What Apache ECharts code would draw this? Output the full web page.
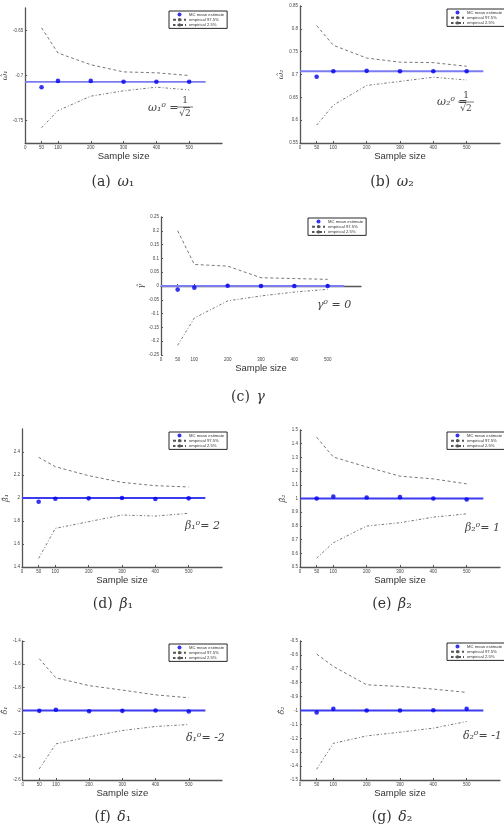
<!DOCTYPE html>
<html>
<head>
<meta charset="utf-8">
<script src="https://cdn.jsdelivr.net/npm/echarts@6/dist/echarts.min.js"></script>
<style>
html,body{margin:0;padding:0;background:#fff}
#main{width:504px;height:833px}
</style>
</head>
<body>
<div id="main"></div>
<script>
// sample sizes and x ticks (shared)
var sampleSizes = [50, 100, 200, 300, 400, 500];
var xTicks = [0, 50, 100, 200, 300, 400, 500];
var trueLineX = [0, 550];

// (a) omega1
var trueW1 = -0.7071;
var meanW1 = [-0.713, -0.706, -0.706, -0.707, -0.707, -0.707];
var hiW1 = [-0.647, -0.675, -0.688, -0.696, -0.697, -0.700];
var loW1 = [-0.758, -0.739, -0.723, -0.717, -0.713, -0.716];
var yTicksW1 = [-0.75, -0.7, -0.65];

// (b) omega2
var trueW2 = 0.7071;
var meanW2 = [0.695, 0.707, 0.708, 0.707, 0.707, 0.707];
var hiW2 = [0.807, 0.764, 0.736, 0.727, 0.726, 0.718];
var loW2 = [0.589, 0.633, 0.676, 0.685, 0.694, 0.688];
var yTicksW2 = [0.55, 0.6, 0.65, 0.7, 0.75, 0.8, 0.85];

// (c) gamma
var trueG = 0;
var meanG = [-0.013, -0.006, 0.001, 0, 0, 0];
var hiG = [0.2, 0.078, 0.072, 0.03, 0.027, 0.024];
var loG = [-0.215, -0.116, -0.054, -0.036, -0.022, -0.012];
var yTicksG = [-0.25, -0.2, -0.15, -0.1, -0.05, 0, 0.05, 0.1, 0.15, 0.2, 0.25];

// (d) beta1
var trueB1 = 2;
var meanB1 = [1.968, 1.994, 1.997, 2.0, 1.991, 1.997];
var hiB1 = [2.354, 2.272, 2.194, 2.136, 2.107, 2.096];
var loB1 = [1.475, 1.736, 1.794, 1.852, 1.843, 1.867];
var yTicksB1 = [1.4, 1.6, 1.8, 2, 2.2, 2.4];

// (e) beta2
var trueB2 = 1;
var meanB2 = [1.0, 1.015, 1.007, 1.01, 1.0, 0.993];
var hiB2 = [1.447, 1.303, 1.23, 1.163, 1.143, 1.107];
var loB2 = [0.565, 0.677, 0.799, 0.823, 0.864, 0.888];
var yTicksB2 = [0.5, 0.6, 0.7, 0.8, 0.9, 1, 1.1, 1.2, 1.3, 1.4, 1.5];

// (f) delta1
var trueD1 = -2;
var meanD1 = [-2.003, -1.994, -2.006, -2.003, -2.0, -2.009];
var hiD1 = [-1.553, -1.718, -1.785, -1.824, -1.865, -1.89];
var loD1 = [-2.504, -2.288, -2.228, -2.173, -2.138, -2.121];
var yTicksD1 = [-2.6, -2.4, -2.2, -2, -1.8, -1.6, -1.4];

// (g) delta2
var trueD2 = -1;
var meanD2 = [-1.014, -0.988, -1.0, -1.0, -0.998, -0.988];
var hiD2 = [-0.594, -0.683, -0.815, -0.827, -0.846, -0.87];
var loD2 = [-1.423, -1.236, -1.183, -1.156, -1.127, -1.079];
var yTicksD2 = [-1.5, -1.4, -1.3, -1.2, -1.1, -1, -0.9, -0.8, -0.7, -0.6, -0.5];

var legendNames = ['MC mean estimate', 'empirical 97.5%', 'empirical 2.5%'];

var panels = [
	{box:[22, 8, 200, 135], min:-0.775, max:-0.625, ticks:yTicksW1, truth:trueW1, mean:meanW1, hi:hiW1, lo:loW1, yname:'ω̂₁', gap:12, lc:'#7b7bf2', leg:[169, 11]},
	{box:[300, 6, 200, 137], min:0.55, max:0.85, ticks:yTicksW2, truth:trueW2, mean:meanW2, hi:hiW2, lo:loW2, yname:'ω̂₂', gap:13, lc:'#7b7bf2', leg:[447, 9]},
	{box:[161, 217, 200, 138], min:-0.25, max:0.25, ticks:yTicksG, truth:trueG, mean:meanG, hi:hiG, lo:loG, yname:'γ̂', gap:16, lc:'#7b7bf2', leg:[308, 218]},
	{box:[22, 429, 200, 138], min:1.4, max:2.6, ticks:yTicksB1, truth:trueB1, mean:meanB1, hi:hiB1, lo:loB1, yname:'β̂₁', gap:12, lc:'#3c3cf0', leg:[169, 432]},
	{box:[300, 430, 200, 137], min:0.5, max:1.5, ticks:yTicksB2, truth:trueB2, mean:meanB2, hi:hiB2, lo:loB2, yname:'β̂₂', gap:13, lc:'#3c3cf0', leg:[447, 432]},
	{box:[22, 641, 200, 139], min:-2.6, max:-1.4, ticks:yTicksD1, truth:trueD1, mean:meanD1, hi:hiD1, lo:loD1, yname:'δ̂₁', gap:10, lc:'#3c3cf0', leg:[169, 644]},
	{box:[300, 641, 200, 139], min:-1.5, max:-0.5, ticks:yTicksD2, truth:trueD2, mean:meanD2, hi:hiD2, lo:loD2, yname:'δ̂₂', gap:12, lc:'#3c3cf0', leg:[447, 643]}
];

function fmt(v) {
	return String(parseFloat(Number(v).toFixed(3)));
}
function pairs(ys) {
	return sampleSizes.map(function(x, i) { return [x, ys[i]]; });
}

var grids = [], xAxes = [], yAxes = [], series = [], legends = [];
var axisLine = {show:true, lineStyle:{color:'#555', width:1.3}};
var tickLab = {fontSize:4.5, color:'#444', fontFamily:'Liberation Sans', margin:2, formatter:fmt};

panels.forEach(function(p, k) {
	grids.push({left:p.box[0], top:p.box[1], width:p.box[2], height:p.box[3], containLabel:false});
	xAxes.push({
		type:'value', gridIndex:k, min:0, max:600,
		name:'Sample size', nameLocation:'middle', nameGap:6,
		nameTextStyle:{fontSize:9.5, color:'#333', fontFamily:'Liberation Sans'},
		axisLine:axisLine,
		axisTick:{show:true, inside:true, length:2, customValues:xTicks, lineStyle:{color:'#555'}},
		axisLabel:Object.assign({}, tickLab, {customValues:xTicks}),
		splitLine:{show:false}
	});
	yAxes.push({
		type:'value', gridIndex:k, min:p.min, max:p.max,
		name:p.yname, nameLocation:'middle', nameGap:p.gap, nameRotate:90,
		nameTextStyle:{fontSize:8, color:'#444', fontFamily:'DejaVu Serif', fontStyle:'italic'},
		axisLine:axisLine,
		axisTick:{show:true, inside:true, length:2, customValues:p.ticks, lineStyle:{color:'#555'}},
		axisLabel:Object.assign({}, tickLab, {customValues:p.ticks}),
		splitLine:{show:false}
	});
	series.push({
		type:'line', xAxisIndex:k, yAxisIndex:k, name:'true', silent:true,
		data:trueLineX.map(function(x) { return [x, p.truth]; }),
		symbol:'none', lineStyle:{color:p.lc, width:1.8}, z:2
	});
	series.push({
		type:'line', xAxisIndex:k, yAxisIndex:k, name:legendNames[1],
		data:pairs(p.hi), symbol:'none', color:'#555',
		lineStyle:{color:'#555', width:0.8, type:[3, 2.5]}, z:3
	});
	series.push({
		type:'line', xAxisIndex:k, yAxisIndex:k, name:legendNames[2],
		data:pairs(p.lo), symbol:'none', color:'#555',
		lineStyle:{color:'#555', width:0.8, type:[2.5, 2, 1, 2]}, z:3
	});
	series.push({
		type:'scatter', xAxisIndex:k, yAxisIndex:k, name:legendNames[0],
		data:pairs(p.mean), symbol:'circle', symbolSize:4.6,
		itemStyle:{color:'#0000ee'}, z:5
	});
	legends.push({
		data:legendNames, orient:'vertical', left:p.leg[0], top:p.leg[1],
		itemWidth:13, itemHeight:4, itemGap:1.2, padding:[1.5, 3, 1.5, 3],
		borderColor:'#111', borderWidth:0.9, backgroundColor:'#fff',
		textStyle:{fontSize:4.2, color:'#333', fontFamily:'Liberation Sans', padding:[0, 0, 0, -2]},
		selectedMode:false
	});
});

function caption(x, y, tag, greek, sub) {
	return {
		type:'text', x:x, y:y,
		style:{
			text:'{n|(' + tag + ')}  {g|' + greek + '}{s|' + sub + '}',
			align:'center', verticalAlign:'middle',
			rich:{
				n:{fontSize:14, fontFamily:'DejaVu Serif', fill:'#333'},
				g:{fontSize:14, fontFamily:'DejaVu Serif', fontStyle:'italic', fill:'#333'},
				s:{fontSize:14, fontFamily:'DejaVu Serif', fill:'#333'}
			}
		}
	};
}
function note(x, y, txt) {
	return {
		type:'text', x:x, y:y,
		style:{text:txt, font:'italic 11px "DejaVu Serif"', fill:'#444', verticalAlign:'middle'}
	};
}
function frac(cx, cy) {
	return [
		{type:'text', x:cx, y:cy - 6, style:{text:'1', font:'9px "DejaVu Serif"', fill:'#444', align:'center', verticalAlign:'middle'}},
		{type:'line', shape:{x1:cx - 8, y1:cy, x2:cx + 8, y2:cy}, style:{stroke:'#444', lineWidth:0.7}},
		{type:'text', x:cx, y:cy + 6.5, style:{text:'√2', font:'9px "DejaVu Serif"', fill:'#444', align:'center', verticalAlign:'middle'}}
	];
}

var graphics = [
	caption(113, 182, 'a', 'ω', '₁'),
	caption(392, 182, 'b', 'ω', '₂'),
	caption(248, 397, 'c', 'γ', ''),
	caption(113, 604, 'd', 'β', '₁'),
	caption(392, 604, 'e', 'β', '₂'),
	caption(113, 817, 'f', 'δ', '₁'),
	caption(392, 817, 'g', 'δ', '₂'),
	note(148, 108, 'ω₁⁰ = −'),
	note(437, 102, 'ω₂⁰ = '),
	note(317, 305, 'γ⁰ = 0'),
	note(185, 526, 'β₁⁰= 2'),
	note(465, 528, 'β₂⁰= 1'),
	note(186, 738, 'δ₁⁰= -2'),
	note(463, 736, 'δ₂⁰= -1')
].concat(frac(185, 107)).concat(frac(466, 102));

var myChart = echarts.init(document.getElementById('main'), null, {renderer:'canvas'});
myChart.setOption({
	animation:false,
	backgroundColor:'#fff',
	grid:grids,
	xAxis:xAxes,
	yAxis:yAxes,
	legend:legends,
	series:series,
	graphic:graphics
});
</script>
</body>
</html>
